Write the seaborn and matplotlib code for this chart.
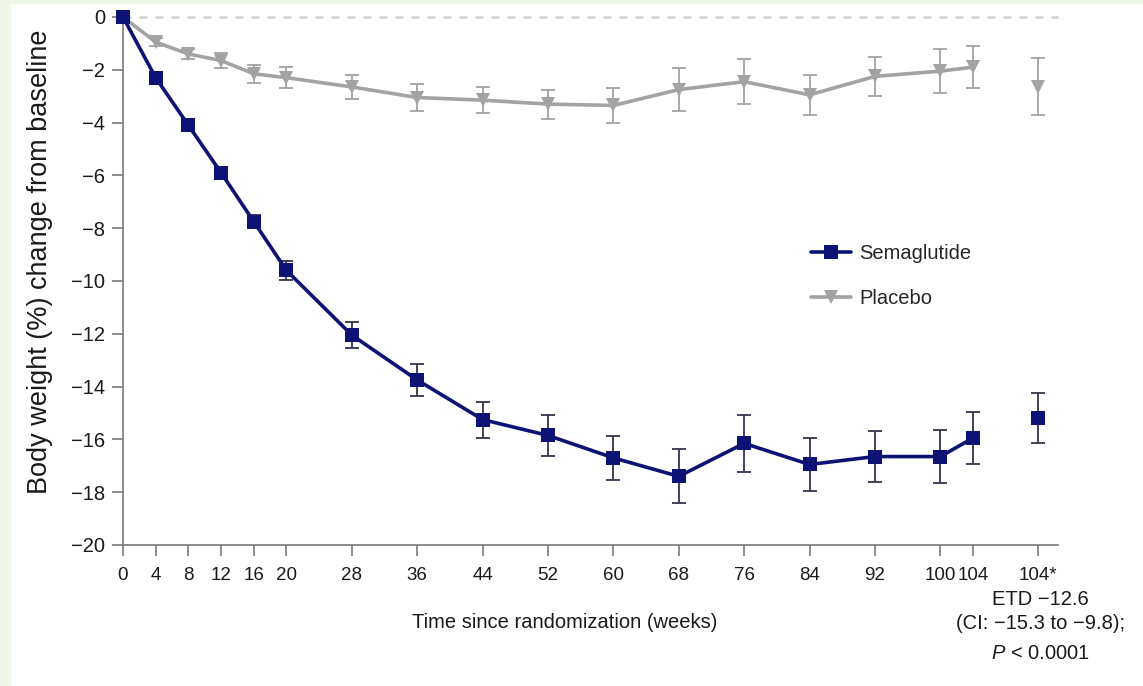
import numpy as np
import pandas as pd
import matplotlib
matplotlib.use("Agg")
import matplotlib.pyplot as plt
from matplotlib.patches import Rectangle
from matplotlib.lines import Line2D
import seaborn as sns

# ---- data ----
weeks = [0, 4, 8, 12, 16, 20, 28, 36, 44, 52, 60, 68, 76, 84, 92, 100, 104]
sema = [0, -2.3, -4.1, -5.9, -7.75, -9.6, -12.05, -13.75, -15.25, -15.85, -16.7, -17.4,
        -16.15, -16.95, -16.65, -16.65, -15.95]
sema_err = [0, 0.15, 0.15, 0.15, 0.25, 0.35, 0.5, 0.6, 0.68, 0.78, 0.82, 1.02,
            1.08, 1.0, 0.97, 1.0, 1.0]
plac = [0, -0.95, -1.4, -1.65, -2.15, -2.3, -2.65, -3.05, -3.15, -3.3, -3.35, -2.75,
        -2.45, -2.95, -2.25, -2.05, -1.9]
plac_err = [0, 0.15, 0.2, 0.3, 0.35, 0.4, 0.45, 0.5, 0.5, 0.55, 0.65, 0.8,
            0.85, 0.75, 0.75, 0.83, 0.8]
star_x = 112  # position of "104*" column
sema_star, sema_star_err = -15.2, 0.95
plac_star, plac_star_err = -2.65, 1.08
xtick_pos = [0, 4, 8, 12, 16, 20, 28, 36, 44, 52, 60, 68, 76, 84, 92, 100, 104, 112]
xtick_labels = ["0", "4", "8", "12", "16", "20", "28", "36", "44", "52", "60", "68",
                "76", "84", "92", "100", "104", "104*"]
yticks = list(range(0, -21, -2))

NAVY = "#0d1275"
GREY = "#a3a3a3"
AXC = "#7a7a7a"
TXT = "#1a1a1a"

sns.set_theme(style="white")
plt.rcParams["font.family"] = ["Liberation Sans", "DejaVu Sans"]
plt.rcParams["mathtext.fontset"] = "custom"
plt.rcParams["mathtext.it"] = "Liberation Sans:italic"
plt.rcParams["mathtext.rm"] = "Liberation Sans"

df = pd.DataFrame({
    "week": weeks * 2,
    "value": sema + plac,
    "group": ["Semaglutide"] * len(weeks) + ["Placebo"] * len(weeks),
})

fig = plt.figure(figsize=(11.43, 6.86), dpi=100)
fig.patch.set_facecolor("white")
fig.patches.append(Rectangle((0, 0), 10 / 1143, 1, transform=fig.transFigure,
                             color="#eef6e8", zorder=0))
fig.patches.append(Rectangle((0, 1 - 3 / 686), 1, 3 / 686, transform=fig.transFigure,
                             color="#eef6e8", zorder=0))
ax = fig.add_axes([123 / 1143, 1 - 545 / 686, (1058 - 123) / 1143, (545 - 17) / 686])

# zero reference line
ax.plot([0, 114.4], [0, 0], ls=(0, (3.2, 3.2)), color="#cfcfcf", lw=1.8, zorder=1,
        clip_on=False)

# error bars
ax.errorbar(weeks, plac, yerr=plac_err, fmt="none", ecolor=GREY, elinewidth=1.3,
            capsize=5, capthick=1.3, zorder=2, clip_on=False)
ax.errorbar(weeks, sema, yerr=sema_err, fmt="none", ecolor="#33334d", elinewidth=1.3,
            capsize=5, capthick=1.3, zorder=2, clip_on=False)
ax.errorbar([star_x], [plac_star], yerr=[plac_star_err], fmt="none", ecolor=GREY,
            elinewidth=1.3, capsize=5, capthick=1.3, zorder=2)
ax.errorbar([star_x], [sema_star], yerr=[sema_star_err], fmt="none", ecolor="#33334d",
            elinewidth=1.3, capsize=5, capthick=1.3, zorder=2)

sns.lineplot(data=df, x="week", y="value", hue="group", style="group",
             hue_order=["Placebo", "Semaglutide"],
             palette={"Semaglutide": NAVY, "Placebo": GREY},
             markers={"Semaglutide": "s", "Placebo": "v"}, dashes=False,
             markersize=9.5, markeredgewidth=0, linewidth=2.6, ax=ax,
             legend=False, zorder=3)
for ln in ax.lines:
    ln.set_clip_on(False)

ax.plot([star_x], [plac_star], marker="v", ms=9.5, mew=0, color=GREY, ls="none", zorder=3)
ax.plot([star_x], [sema_star], marker="s", ms=9.5, mew=0, color=NAVY, ls="none", zorder=3)

ax.set_xlim(0, 114.4)
ax.set_ylim(-20, 0)
ax.set_xticks(xtick_pos)
ax.set_xticklabels(xtick_labels)
ax.set_yticks(yticks)
ax.set_yticklabels([str(v).replace("-", "\u2212") for v in yticks])

for s in ["top", "right"]:
    ax.spines[s].set_visible(False)
for s in ["left", "bottom"]:
    ax.spines[s].set_color(AXC)
    ax.spines[s].set_linewidth(1.2)
ax.tick_params(axis="both", direction="out", length=8, width=1.2, color=AXC,
               labelcolor=TXT, left=True, bottom=True)
ax.tick_params(axis="x", pad=8, labelsize=13.5)
ax.tick_params(axis="y", pad=5, labelsize=14.5)

ax.set_xlabel("Time since randomization (weeks)", fontsize=14.5, color=TXT)
ax.xaxis.set_label_coords((565 - 123) / 935, -(613 - 545) / 528)
ax.set_ylabel("Body weight (%) change from baseline", fontsize=19.5, color=TXT)
ax.yaxis.set_label_coords(-(123 - 53) / 935, (545 - 262) / 528)

handles = [Line2D([], [], color=NAVY, lw=2.6, marker="s", ms=9.5, mew=0),
           Line2D([], [], color=GREY, lw=2.6, marker="v", ms=9.5, mew=0)]
ax.legend(handles, ["Semaglutide", "Placebo"], loc="upper left",
          bbox_to_anchor=(0.716, 0.605), frameon=False, fontsize=14.5,
          handlelength=2.0, labelspacing=1.3, handletextpad=0.4)

ax.text(star_x + 0.2, -21.7, "ETD \u221212.6\n(CI: \u221215.3 to \u22129.8);",
        ha="center", va="top", fontsize=14.5, color=TXT, linespacing=1.35,
        clip_on=False)
ax.text(star_x + 0.2, -23.75, "$P$ < 0.0001", ha="center", va="top", fontsize=14.5,
        color=TXT, clip_on=False)

fig.savefig("out.png", dpi=100)
